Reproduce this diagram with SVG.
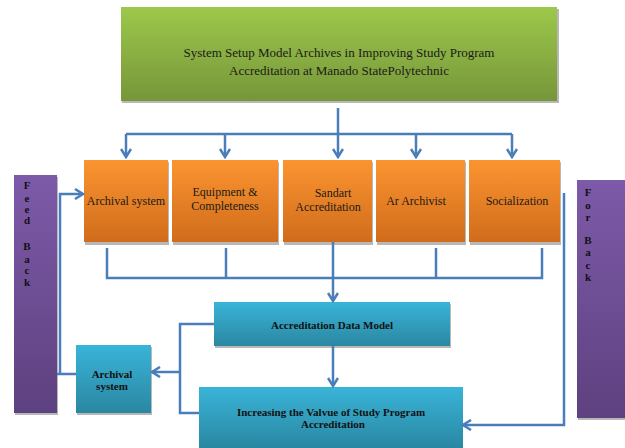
<svg xmlns="http://www.w3.org/2000/svg" width="625" height="448" viewBox="0 0 625 448">
<defs>
<linearGradient id="gGreen" x1="0" y1="0" x2="0" y2="1"><stop offset="0" stop-color="#9dc84b"/><stop offset="1" stop-color="#76963a"/></linearGradient>
<linearGradient id="gOrange" x1="0" y1="0" x2="0" y2="1"><stop offset="0" stop-color="#fb9430"/><stop offset="1" stop-color="#d06c1c"/></linearGradient>
<linearGradient id="gTeal" x1="0" y1="0" x2="0" y2="1"><stop offset="0" stop-color="#39b4d8"/><stop offset="1" stop-color="#2a87a2"/></linearGradient>
<linearGradient id="gPurple" x1="0" y1="0" x2="0" y2="1"><stop offset="0" stop-color="#7d5aa8"/><stop offset="1" stop-color="#5e4180"/></linearGradient>
<marker id="ah" viewBox="0 0 12 12" refX="10" refY="6" markerWidth="12" markerHeight="12" markerUnits="userSpaceOnUse" orient="auto"><path d="M2,1 L10,6 L2,11" fill="none" stroke="#4a7ebb" stroke-width="2.5"/></marker>
</defs>
<style>
.sh{fill:#b8b8b8}
.t{font-family:"Liberation Serif","Times New Roman",serif;font-size:12px;fill:#1a1a1a;text-anchor:middle}
.tt{font-size:13px}
.tb{font-family:"Liberation Serif","Times New Roman",serif;font-size:11px;font-weight:bold;fill:#111;text-anchor:middle}
.c{fill:none;stroke:#4a7ebb;stroke-width:2.5}
</style>
<rect width="625" height="448" fill="#fff"/>

<g id="title">
<rect class="sh" x="122" y="9" width="437" height="94"/>
<rect x="121" y="7" width="436" height="94" fill="url(#gGreen)"/>
<text class="t tt" x="339" y="57">System Setup Model Archives in Improving Study Program</text>
<text class="t tt" x="339" y="75">Accreditation at Manado StatePolytechnic</text>
</g>

<g id="archival-system">
<rect class="sh" x="85" y="162" width="84" height="83"/>
<rect x="84" y="160" width="84" height="82" fill="url(#gOrange)"/>
<text class="t" x="126" y="205">Archival system</text>
</g>
<g id="equipment">
<rect class="sh" x="173" y="162" width="106" height="83"/>
<rect x="172" y="160" width="106" height="82" fill="url(#gOrange)"/>
<text class="t" x="225" y="196">Equipment &amp;</text>
<text class="t" x="225" y="210">Completeness</text>
</g>
<g id="sandart">
<rect class="sh" x="284" y="162" width="89" height="83"/>
<rect x="283" y="160" width="89" height="82" fill="url(#gOrange)"/>
<text class="t" x="333" y="197">Sandart</text>
<text class="t" x="328" y="211">Accreditation</text>
</g>
<g id="ar-archivist">
<rect class="sh" x="377" y="162" width="89" height="83"/>
<rect x="376" y="160" width="89" height="82" fill="url(#gOrange)"/>
<text class="t" x="416" y="205">Ar Archivist</text>
</g>
<g id="socialization">
<rect class="sh" x="470" y="162" width="91" height="83"/>
<rect x="469" y="160" width="91" height="82" fill="url(#gOrange)"/>
<text class="t" x="517" y="205">Socialization</text>
</g>

<g id="accreditation-data-model">
<rect class="sh" x="215" y="304" width="236" height="44"/>
<rect x="214" y="302" width="236" height="44" fill="url(#gTeal)"/>
<text class="tb" x="332" y="329">Accreditation Data Model</text>
</g>
<g id="increasing">
<rect x="199" y="387" width="264" height="61" fill="url(#gTeal)"/>
<text class="tb" x="331" y="416">Increasing the Valvue of Study Program</text>
<text class="tb" x="333" y="428">Accreditation</text>
</g>
<g id="archival-system-2">
<rect class="sh" x="77" y="347" width="75" height="68"/>
<rect x="76" y="345" width="75" height="68" fill="url(#gTeal)"/>
<text class="tb" x="112" y="378">Archival</text>
<text class="tb" x="112" y="390">system</text>
</g>

<g id="feed-back">
<rect class="sh" x="15" y="177" width="43" height="238"/>
<rect x="14" y="175" width="43" height="238" fill="url(#gPurple)"/>
<g class="tb">
<text x="27" y="189">F</text>
<text x="27" y="202">e</text>
<text x="27" y="213">e</text>
<text x="27" y="224">d</text>
<text x="27" y="250">B</text>
<text x="27" y="263">a</text>
<text x="27" y="274">c</text>
<text x="27" y="286">k</text>
</g>
</g>
<g id="for-back">
<rect class="sh" x="578" y="182" width="47" height="238"/>
<rect x="577" y="180" width="48" height="238" fill="url(#gPurple)"/>
<g class="tb">
<text x="588" y="196">F</text>
<text x="588" y="209">o</text>
<text x="588" y="221">r</text>
<text x="588" y="244">B</text>
<text x="588" y="256">a</text>
<text x="588" y="269">c</text>
<text x="588" y="281">k</text>
</g>
</g>

<g id="connectors">
<path class="c" d="M338,108 V157" marker-end="url(#ah)"/>
<path class="c" d="M126,134 H512"/>
<path class="c" d="M126,134 V157" marker-end="url(#ah)"/>
<path class="c" d="M225,134 V157" marker-end="url(#ah)"/>
<path class="c" d="M416,134 V157" marker-end="url(#ah)"/>
<path class="c" d="M512,134 V157" marker-end="url(#ah)"/>

<path class="c" d="M107,248 V278 H542 V248"/>
<path class="c" d="M226,248 V278"/>
<path class="c" d="M436,248 V278"/>
<path class="c" d="M333,242 V301" marker-end="url(#ah)"/>

<path class="c" d="M333,346 V386" marker-end="url(#ah)"/>

<path class="c" d="M214,324 H180 V413 H199"/>
<path class="c" d="M180,372 H152" marker-end="url(#ah)"/>

<path class="c" d="M57,374 H76"/>
<path class="c" d="M60,374 V194 H83" marker-end="url(#ah)"/>

<path class="c" d="M564,193 V425 H463" marker-end="url(#ah)"/>
</g>
</svg>
